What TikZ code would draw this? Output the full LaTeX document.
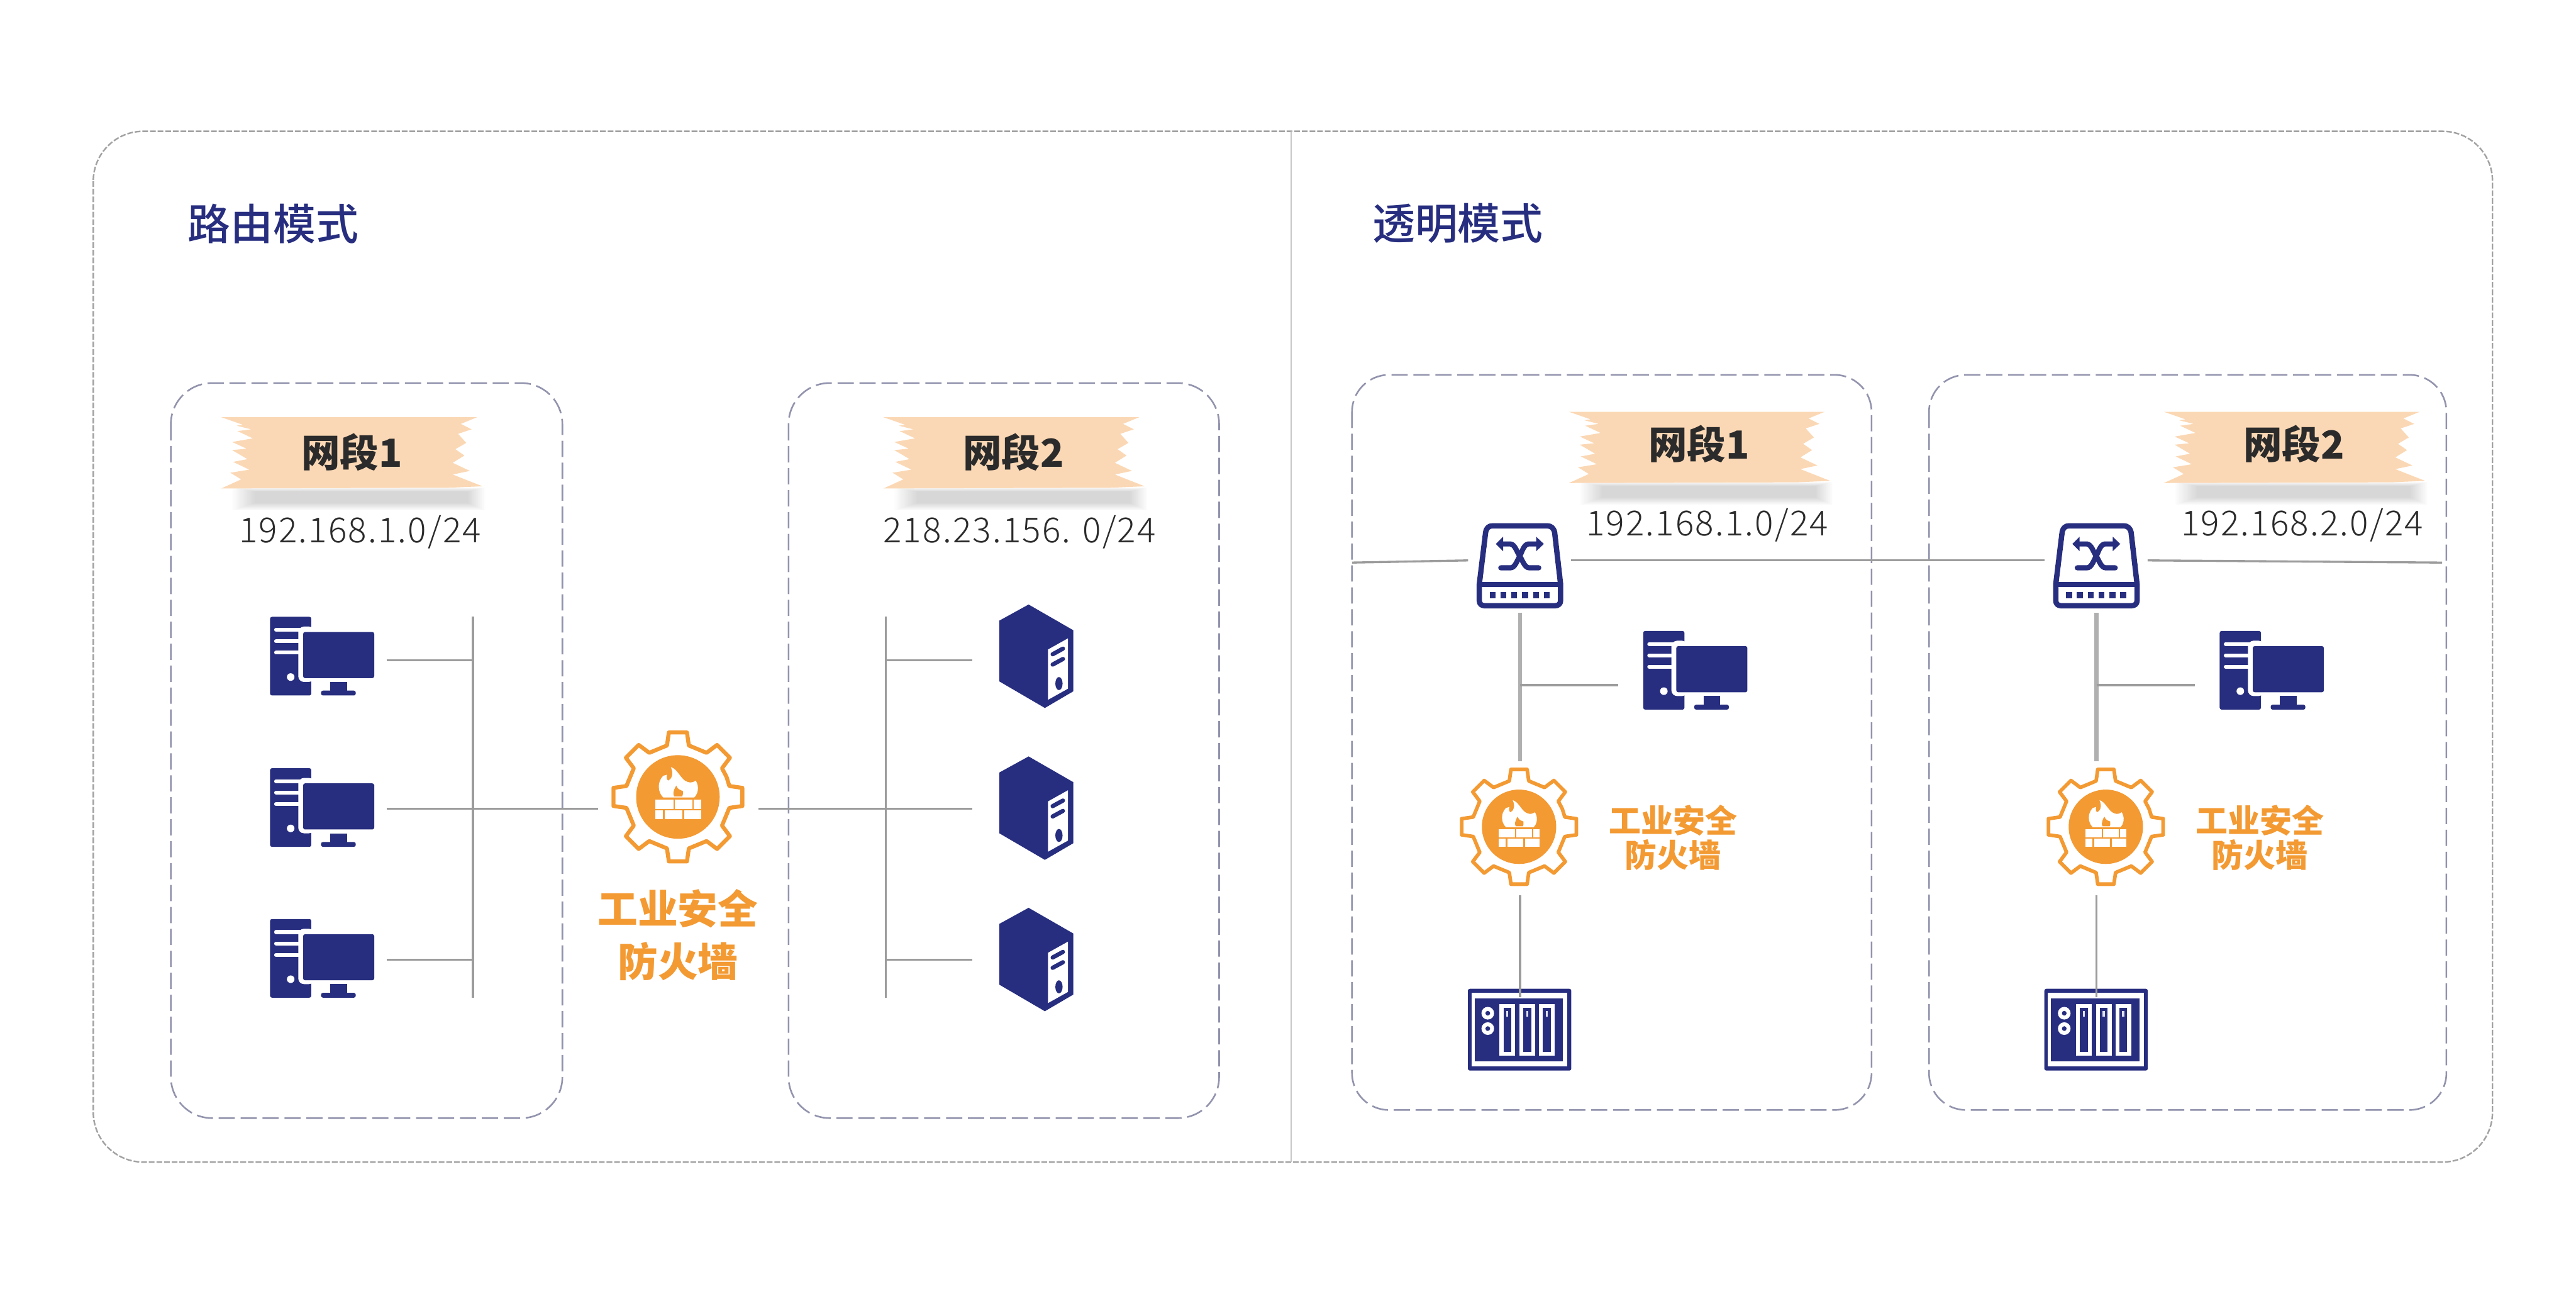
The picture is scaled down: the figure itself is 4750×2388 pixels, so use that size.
\documentclass[tikz,border=0pt]{standalone}
\usepackage{fontspec}
\setmainfont{Noto Sans CJK SC}
\newfontfamily\titlefont{Noto Sans CJK SC Medium}
\newfontfamily\ipfont[LetterSpace=4]{Noto Sans CJK SC Light}
\usetikzlibrary{calc}
\definecolor{navy}{HTML}{272E7F}
\definecolor{fireor}{HTML}{F39A33}
\definecolor{tapec}{HTML}{FBD8B5}
\definecolor{inkc}{HTML}{2B2B2B}
\definecolor{boxc}{HTML}{9293AD}
\definecolor{framec}{HTML}{A2A2A2}
\definecolor{linec}{HTML}{9C9C9C}
\tikzset{
  x=0.01cm,y=-0.01cm,
  outerframe/.style={draw=framec,line width=0.8pt,dash pattern=on 3pt off 1pt,rounded corners=0.92cm},
  groupboxl/.style={draw=boxc,line width=0.85pt,dash pattern=on 8.5pt off 3pt,rounded corners=0.76cm},
  groupboxr/.style={draw=boxc,line width=0.85pt,dash pattern=on 8.5pt off 3pt,rounded corners=0.68cm},
  wire/.style={draw=linec,line width=1.1pt},
  thickwire/.style={draw=linec!80,line width=2.2pt},
  titletext/.style={inner sep=0pt,text=navy,font=\titlefont\fontsize{22.4pt}{24pt}\selectfont},
  tapetext/.style={inner sep=0pt,text=inkc,font=\fontsize{20.3pt}{22pt}\selectfont\bfseries},
  iptext/.style={inner sep=0pt,text=inkc,font=\ipfont\fontsize{18.1pt}{20pt}\selectfont},
  fwbig/.style={inner sep=0pt,text=fireor,align=center,font=\fontsize{21pt}{27.6pt}\selectfont\bfseries},
  fwsmall/.style={inner sep=0pt,text=fireor,align=center,font=\fontsize{16.8pt}{17.9pt}\selectfont\bfseries},
}
% tape banner: #1,#2 = top left corner
\newcommand{\tapeicon}[2]{%
 \begin{scope}[shift={(#1-13.3,#2-28.3)},scale=1/3]
  \foreach \i in {0,...,19}
    \fill[black,opacity=0.008] (100+6.5*\i,476+1.2*\i) rectangle (1500-5*\i,604-2.2*\i);
  \fill[tapec] (40,88) -- (1455,88) -- (1365,125) -- (1425,155) -- (1350,180) -- (1395,230) -- (1335,265)
    -- (1385,300) -- (1320,340) -- (1415,385) -- (1320,405) -- (1485,470) -- (1300,478) -- (40,482)
    -- (150,432) -- (90,395) -- (195,378) -- (105,335) -- (185,320) -- (100,270) -- (180,262) -- (100,225)
    -- (215,205) -- (130,165) -- (205,155) -- (125,135) -- (160,130) -- cycle;
 \end{scope}}
% desktop computer: top left corner
\newcommand{\pcicon}[2]{%
 \begin{scope}[shift={(#1,#2)}]
  \fill[navy,rounded corners=1pt] (0,0) rectangle (76,145);
  \fill[white,rounded corners=3pt] (52,18) rectangle (82,120);
  \foreach \yy in {24,45,66} \draw[white,line width=2pt,line cap=round] (11,\yy) -- (56,\yy);
  \fill[white] (38,111) circle (7);
  \fill[navy,rounded corners=1pt] (61,28) rectangle (192,113);
  \fill[navy] (111,120) rectangle (142,138);
  \fill[navy,rounded corners=1pt] (94,136) rectangle (158,145);
 \end{scope}}
% tower server, in zoom units
\newcommand{\servericon}[2]{%
 \begin{scope}[shift={(#1,#2)},scale=1/3]
  \fill[navy] (350,103) -- (188,192) -- (188,528) -- (440,675) -- (597,583) -- (597,245) -- cycle;
  \fill[white] (457,352) -- (568,290) -- (568,568) -- (457,630) -- cycle;
  \draw[navy,line width=2.2pt,line cap=round] (483,378) -- (540,347);
  \draw[navy,line width=2.2pt,line cap=round] (483,435) -- (540,404);
  \fill[navy] (518,540) ellipse (20 and 36);
 \end{scope}}
% switch, in zoom units
\newcommand{\switchicon}[2]{%
 \begin{scope}[shift={(#1,#2)},scale=1/3]
  \draw[navy,line width=2.8pt,line join=round]
    (233,472) -- (268,185) .. controls (272,160) and (285,148) .. (305,148) -- (610,148)
    .. controls (630,148) and (645,160) .. (650,185) -- (683,472) -- (683,560)
    .. controls (683,580) and (670,590) .. (650,590) -- (265,590)
    .. controls (245,590) and (233,580) .. (233,560) -- cycle;
  \draw[navy,line width=2.8pt] (233,472) -- (683,472);
  \foreach \k in {0,...,5} \fill[navy] (290+60*\k,515) rectangle ++(33,32);
  \draw[navy,line width=2.7pt,line cap=round] (360,248) -- (405,248) .. controls (430,250) and (440,290) .. (457,315) .. controls (475,345) and (485,380) .. (510,380) -- (562,380);
  \draw[navy,line width=2.7pt,line cap=round] (552,248) -- (505,248) .. controls (480,250) and (470,290) .. (457,315) .. controls (440,345) and (430,380) .. (405,380) -- (352,380);
  \fill[navy] (325,248) -- (365,208) -- (365,288) -- cycle;
  \fill[navy] (590,248) -- (548,208) -- (548,288) -- cycle;
 \end{scope}}
% NAS rack, in zoom units
\newcommand{\nasicon}[2]{%
 \begin{scope}[shift={(#1,#2)},scale=1/3]
  \fill[navy,rounded corners=1pt] (170,128) rectangle (742,580);
  \fill[white] (190,150) rectangle (720,558);
  \fill[navy] (207,182) rectangle (695,530);
  \foreach \xa/\xb/\xc in {345/367/382,456/477/492,564/585/600}{
    \fill[white] (\xa,212) rectangle (\xa+86,497);
    \fill[navy] (\xb,232) rectangle (\xb+43,476);
    \fill[white!85!navy] (\xc,250) rectangle (\xc+12,282);
  }
  \foreach \yy in {263,348}{
    \fill[white] (280,\yy) circle (35);
    \fill[navy] (280,\yy) circle (13);
  }
 \end{scope}}
% firewall gear: centre, scale, stroke
\newcommand{\gearicon}[4]{%
 \begin{scope}[shift={(#1,#2)},scale=#3]
  \draw[fireor,line width=#4,line join=round]
    (-22.5:97) foreach \a in {0,45,...,315} { -- (\a-12:97) -- (\a-8:120) -- (\a+8:120) -- (\a+12:97) } -- cycle;
  \fill[fireor] (0,0) circle (77);
  \fill[white] (-13,-55) .. controls (-2,-52) and (5,-35) .. (13,-30) .. controls (20,-26) and (25,-25) .. (33,-30)
    .. controls (40,-18) and (37,-6) .. (30,1) -- (-27,1) .. controls (-38,-10) and (-38,-28) .. (-27,-39)
    .. controls (-24,-41) .. (-20,-41) .. controls (-22,-36) and (-20,-31) .. (-18,-30)
    .. controls (-12,-32) and (-7,-42) .. (-13,-55) -- cycle;
  \fill[fireor] (-3,-21) .. controls (-1,-15) and (3,-13) .. (9,-11) .. controls (10,-7) and (9,-3) .. (8,-1) -- (-7,-1) .. controls (-9,-6) and (-9,-11) .. (-3,-21) -- cycle;
  \fill[white] (-42,4.5) rectangle (-8,22);
  \fill[white] (-6,4.5) rectangle (27,22);
  \fill[white] (29,4.5) rectangle (43,22);
  \fill[white] (-42,25) rectangle (-28,41);
  \fill[white] (-24,25) rectangle (8,41);
  \fill[white] (12,25) rectangle (43,41);
 \end{scope}}
\begin{document}
\begin{tikzpicture}
\useasboundingbox[fill=white] (0,0) rectangle (4750,2388);
% frames
\path[outerframe] (172,242) rectangle (4596,2142);
\coordinate (divtop) at (2381,242);
\coordinate (divbot) at (2381,2142);
\draw[draw=framec!60,line width=0.6pt] (divtop) -- (divbot);
\path[groupboxl] (315,706) rectangle (1037,2061);
\path[groupboxl] (1454,706) rectangle (2248,2061);
\path[groupboxr] (2493,691) rectangle (3451,2046);
\path[groupboxr] (3557,691) rectangle (4511,2046);
% titles
\node[titletext] (t1) at (504,412) {路由模式};
\node[titletext] (t2) at (2688,412) {透明模式};
% tapes
\tapeicon{408}{768}\tapeicon{1629}{768}\tapeicon{2893}{758}\tapeicon{3990}{758}
\node[tapetext] (n1) at (649,833) {网段1};
\node[tapetext] (n2) at (1869,833) {网段2};
\node[tapetext] (n3) at (3133,818) {网段1};
\node[tapetext] (n4) at (4230,818) {网段2};
\node[iptext] (ip1) at (664,981) {192.168.1.0/24};
\node[iptext] (ip2) at (1880,981) {218.23.156. 0/24};
\node[iptext] (ip3) at (3148,968) {192.168.1.0/24};
\node[iptext] (ip4) at (4245,968) {192.168.2.0/24};
% left part
\pcicon{498}{1137}\pcicon{498}{1416}\pcicon{498}{1694}
\servericon{1780}{1080}\servericon{1780}{1360}\servericon{1780}{1639}
\gearicon{1250}{1469}{1}{2.1pt}
\node[fwbig] (fw1) at (1250,1723) {工业安全\\防火墙};
\coordinate (pca) at (713,1217);
\coordinate (pcb) at (713,1491);
\coordinate (pcc) at (713,1769);
\coordinate (busa) at (872,1137);
\coordinate (busb) at (872,1839);
\coordinate (busaa) at (872,1217);
\coordinate (buscc) at (872,1769);
\coordinate (gearl) at (1103,1491);
\coordinate (gearr) at (1399,1491);
\coordinate (srva) at (1793,1217);
\coordinate (srvb) at (1793,1491);
\coordinate (srvc) at (1793,1769);
\coordinate (busc) at (1633,1137);
\coordinate (busd) at (1633,1839);
\coordinate (buscA) at (1633,1217);
\coordinate (buscC) at (1633,1769);
\draw[wire] (busa) -- (busb);
\draw[wire] (pca) -- (busaa);
\draw[wire] (pcb) -- (gearl);
\draw[wire] (pcc) -- (buscc);
\draw[wire] (busc) -- (busd);
\draw[wire] (buscA) -- (srva);
\draw[wire] (gearr) -- (srvb);
\draw[wire] (buscC) -- (srvc);
% right part
\foreach \dx/\gx/\tx/\pfx in {0/2801/3085/a,1063/3883/4167/b}{
  \switchicon{2650+\dx}{920}
  \pcicon{3030+\dx}{1163}
  \nasicon{2650+\dx}{1780}
  \gearicon{\gx}{1524}{0.89}{1.9pt}
  \coordinate (sw\pfx s) at (2803+\dx,1130);
  \coordinate (sw\pfx g) at (2803+\dx,1403);
  \coordinate (sw\pfx m) at (2803+\dx,1263);
  \coordinate (pc\pfx) at (2984+\dx,1263);
  \coordinate (gw\pfx) at (2803+\dx,1650);
  \coordinate (ns\pfx) at (2803+\dx,1838);
  \draw[thickwire] (sw\pfx s) -- (sw\pfx g);
  \draw[wire] (sw\pfx m) -- (pc\pfx);
  \draw[wire] (gw\pfx) -- (ns\pfx);
}
\node[fwsmall] (fw2) at (3085,1544) {工业安全\\防火墙};
\node[fwsmall] (fw3) at (4167,1544) {工业安全\\防火墙};
\coordinate (la) at (2493,1037);
\coordinate (sal) at (2707,1033);
\coordinate (sar) at (2897,1033);
\coordinate (sbl) at (3770,1033);
\coordinate (sbr) at (3960,1033);
\coordinate (lb) at (4503,1037);
\draw[wire] (la) -- (sal);
\draw[wire] (sar) -- (sbl);
\draw[wire] (sbr) -- (lb);
\end{tikzpicture}
\end{document}
